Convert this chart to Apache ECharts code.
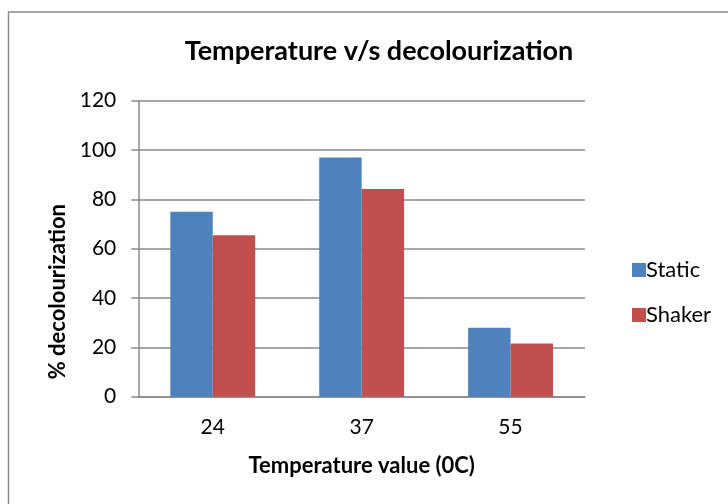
<!DOCTYPE html>
<html><head><meta charset="utf-8">
<script src="https://cdn.jsdelivr.net/npm/echarts@6/dist/echarts.min.js"></script>
<style>html,body{margin:0;padding:0;background:#fff}#c{width:728px;height:504px}</style>
</head><body><div id="c"></div>
<script>
var categories = ['24', '37', '55'];
var staticValues = [75, 97, 28];
var shakerValues = [65.5, 84.2, 21.6];
var yTicks = {min: 0, max: 120, interval: 20};

var FONT = 'Lato';
var chart = echarts.init(document.getElementById('c'));
chart.setOption({
  animation: false,
  backgroundColor: '#fff',
  textStyle: {fontFamily: FONT, color: '#000'},
  graphic: [{type: 'rect', shape: {x: 8.5, y: 12, width: 800, height: 600}, style: {fill: 'none', stroke: '#8a8a8a', lineWidth: 1.5}, silent: true}],
  title: {text: 'Temperature v/s decolourization', left: 374, top: 33, textAlign: 'center',
    textStyle: {fontFamily: FONT, fontWeight: 'bold', fontSize: 27, color: '#000'}},
  legend: {orient: 'vertical', left: 627, top: 254, itemWidth: 14, itemHeight: 14, itemGap: 23,
    icon: 'rect', textStyle: {fontFamily: FONT, fontSize: 22, color: '#000', padding: [0,0,0,-5]},
    data: ['Static', 'Shaker']},
  grid: {left: 138.3, right: 143, top: 100.7, bottom: 107.3, containLabel: false},
  xAxis: {type: 'category', data: categories,
    axisLine: {lineStyle: {color: '#8a8a8a', width: 1.5}}, axisTick: {show: false},
    axisLabel: {fontFamily: FONT, fontSize: 21, color: '#000', margin: 20},
    name: 'Temperature value (0C)', nameLocation: 'middle', nameGap: 58,
    nameTextStyle: {fontFamily: FONT, fontWeight: 'bold', fontSize: 22, color: '#000'}},
  yAxis: {type: 'value', min: yTicks.min, max: yTicks.max, interval: yTicks.interval,
    axisLine: {show: true, lineStyle: {color: '#8a8a8a', width: 1.5}},
    axisTick: {show: true, length: 7, lineStyle: {color: '#8a8a8a', width: 1.5}},
    splitLine: {lineStyle: {color: '#8a8a8a', width: 1.5}},
    axisLabel: {fontFamily: FONT, fontSize: 21, color: '#000', margin: 22},
    name: '% decolourization', nameLocation: 'middle', nameGap: 59, nameRotate: 90,
    nameTextStyle: {fontFamily: FONT, fontWeight: 'bold', fontSize: 22, color: '#000', padding: [0, 86, 0, 0]}},
  series: [
    {name: 'Static', type: 'bar', data: staticValues, barGap: '0%', barCategoryGap: '43%', itemStyle: {color: '#4F81BD'}},
    {name: 'Shaker', type: 'bar', data: shakerValues, barGap: '0%', barCategoryGap: '43%', itemStyle: {color: '#C0504D'}}
  ]
});
</script></body></html>
